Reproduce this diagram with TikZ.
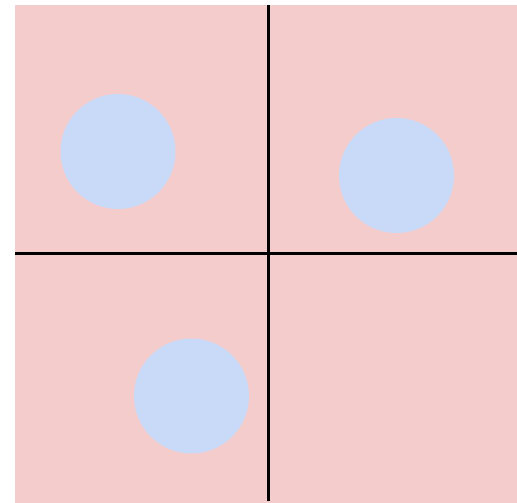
\documentclass[tikz,border=0pt]{standalone}
\definecolor{pinkbg}{HTML}{F4CCCC}
\definecolor{bluedot}{HTML}{C9DAF8}
\begin{document}
\begin{tikzpicture}[x=1pt,y=-1pt,
  dot/.style={circle,fill=bluedot,draw=none,minimum size=115pt,inner sep=0pt},
  divider/.style={line width=3.5pt,black}]
\useasboundingbox (0,0) rectangle (517,503);
\fill[pinkbg] (15,5.5) rectangle (517,503);
\node[dot] (c1) at (118,151.5) {};
\node[dot] (c2) at (396.5,175.5) {};
\node[dot] (c3) at (191.5,396) {};
\coordinate (vt) at (268.5,5.5);
\coordinate (vb) at (268.5,501);
\coordinate (hl) at (15,253.5);
\coordinate (hr) at (517,253.5);
\draw[divider] (vt) -- (vb);
\draw[divider] (hl) -- (hr);
\end{tikzpicture}
\end{document}
